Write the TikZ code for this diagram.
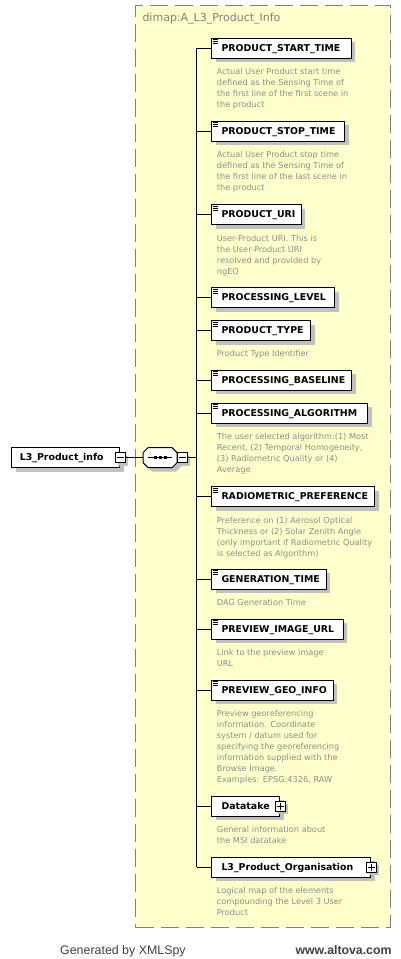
\documentclass[tikz,border=0pt]{standalone}
\usepackage{fontspec}
\setmainfont{Liberation Sans}
\newfontfamily\dvs{DejaVu Sans}
\usetikzlibrary{shadows}
\definecolor{boxfill}{RGB}{255,255,204}
\definecolor{dashgray}{RGB}{128,128,128}
\definecolor{descgray}{RGB}{140,140,140}
\definecolor{titlegray}{RGB}{128,128,128}
\definecolor{shadowgray}{RGB}{192,192,192}
\definecolor{footgray}{RGB}{64,64,64}
\newcommand\elemfont{\dvs\bfseries\fontsize{9.4}{11}\selectfont}
\newcommand\descfont{\dvs\fontsize{8.2}{11}\selectfont}
\tikzset{
  elem/.style={draw=black, line width=1pt, fill=white, minimum height=20pt,
    inner xsep=0pt, inner ysep=0pt, anchor=west, font=\elemfont,
    text height=8pt, text depth=2pt,
    drop shadow={shadow xshift=4pt,shadow yshift=-4pt,fill=shadowgray,opacity=1}},
  desc/.style={anchor=north west, inner sep=0pt, align=left, font=\descfont, text=descgray},
  btn/.style={draw=black, line width=1pt, fill=white, minimum size=10pt, inner sep=0pt,
    drop shadow={shadow xshift=3pt,shadow yshift=-3pt,fill=shadowgray,opacity=1}},
  conn/.style={line width=1pt, draw=black},
  icon/.style={line width=0.7pt, draw=black}
}
% #1 name, #2 y, #3 width, #4 label, #5 description
\newcommand\elembox[5]{%
  \node[elem] (#1) at (211,#2) {\makebox[#3pt][l]{\hspace*{10pt}#4}};
  \draw[icon] ([shift={(1.5,2)}]#1.north west) -- ++(5,0)
              ([shift={(1.5,4)}]#1.north west) -- ++(5,0)
              ([shift={(1.5,6)}]#1.north west) -- ++(5,0);
  \node[desc] (#1d) at ([shift={(5.7,9.5)}]#1.south west) {#5};
}
\newcommand\elemboxplus[5]{%
  \node[elem] (#1) at (211,#2) {\makebox[#3pt][l]{\hspace*{10pt}#4}};
  \node[btn] (#1b) at (#1.east) {};
  \draw[line width=0.8pt] ([xshift=2pt]#1b.west) -- ([xshift=-2pt]#1b.east)
        ([yshift=2pt]#1b.south) -- ([yshift=-2pt]#1b.north);
  \node[desc] (#1d) at ([shift={(5.7,9.5)}]#1.south west) {#5};
}
\newcommand\octpath{(148,447.7) -- (172,447.7) -- (177,452.7) -- (177,462.7) -- (172,467.7) -- (148,467.7) -- (143,462.7) -- (143,452.7) -- cycle}
\begin{document}
\begin{tikzpicture}[x=1pt,y=-1pt]
\useasboundingbox[fill=white] (0,0) rectangle (401,959);
% group box
\node[draw=dashgray, line width=1pt, dash pattern=on 18pt off 7pt, fill=boxfill,
      minimum width=255pt, minimum height=922pt, anchor=north west, inner sep=0pt] (grp) at (135,5) {};
\node[anchor=west, inner sep=0pt, font=\dvs\fontsize{11}{13}\selectfont, text=titlegray] (title) at (142.3,19) {dimap:A\_L3\_Product\_Info};
% root element
\node[elem] (root) at (11,457.7) {\makebox[108pt][l]{\hspace*{8.3pt}L3\_Product\_info}};
\node[btn] (rootb) at (root.east) {};
\draw[line width=0.8pt] ([xshift=2pt]rootb.west) -- ([xshift=-2pt]rootb.east);
% sequence compositor
\node[inner sep=0pt, minimum width=34pt, minimum height=20pt] (seq) at (160,457.7) {};
\begin{scope}[shift={(4,4)}]
  \fill[shadowgray] \octpath;
\end{scope}
\draw[line width=1pt, fill=white] \octpath;
\draw[line width=1pt] ([xshift=5pt]seq.west) -- ([xshift=-5pt]seq.east);
\foreach \dx in {-5,0,5} {
  \fill[black] ([shift={(\dx-1.5,-1.5)}]seq.center) rectangle ++(3,3);
}
\node[btn] (seqb) at (182,457.7) {};
\draw[line width=0.8pt] ([xshift=2pt]seqb.west) -- ([xshift=-2pt]seqb.east);
\draw[conn] (rootb.east) -- (seq.west);
\coordinate (bus) at (196.7,457.7);
\draw[conn] (seqb.east) -- (bus);
% child elements
\elembox{pst}{48.3}{139.7}{PRODUCT\_START\_TIME}{Actual User Product start time\\defined as the Sensing Time of\\the first line of the first scene in\\the product}
\elembox{psp}{131.3}{133.3}{PRODUCT\_STOP\_TIME}{Actual User Product stop time\\defined as the Sensing Time of\\the first line of the last scene in\\the product}
\elembox{puri}{214.7}{89.7}{PRODUCT\_URI}{User-Product URI. This is\\the User-Product URI\\resolved and provided by\\ngEO}
\elembox{plev}{297.5}{123.3}{PROCESSING\_LEVEL}{}
\elembox{ptyp}{330.5}{99.3}{PRODUCT\_TYPE}{Product Type Identifier}
\elembox{pbase}{380}{140}{PROCESSING\_BASELINE}{}
\elembox{palg}{413.3}{156.3}{PROCESSING\_ALGORITHM}{The user selected algorithm:(1) Most\\Recent, (2) Temporal Homogeneity,\\(3) Radiometric Quality or (4)\\Average}
\elembox{prad}{496.7}{163}{RADIOMETRIC\_PREFERENCE}{Preference on (1) Aerosol Optical\\Thickness or (2) Solar Zenith Angle\\(only important if Radiometric Quality\\is selected as Algorithm)}
\elembox{pgen}{579.3}{114.5}{GENERATION\_TIME}{DAG Generation Time}
\elembox{pimg}{629.3}{131.5}{PREVIEW\_IMAGE\_URL}{Link to the preview image\\URL}
\elembox{pgeo}{690.3}{121.5}{PREVIEW\_GEO\_INFO}{Preview georeferencing\\information. Coordinate\\system / datum used for\\specifying the georeferencing\\information supplied with the\\Browse Image.\\Examples: EPSG:4326, RAW}
\elemboxplus{pdat}{806.3}{68}{Datatake}{General information about\\the MSI datatake}
\elemboxplus{porg}{867.3}{159}{L3\_Product\_Organisation}{Logical map of the elements\\compounding the Level 3 User\\Product}
% bus and branches
\draw[conn] (pst.west -| bus) -- (porg.west -| bus);
\foreach \n in {pst,psp,puri,plev,ptyp,pbase,palg,prad,pgen,pimg,pgeo,pdat,porg} {
  \draw[conn] (\n.west -| bus) -- (\n.west);
}
% footer
\node[anchor=west, inner sep=0pt, text height=9pt, text depth=2.5pt, font=\fontsize{12.4}{14}\selectfont, text=footgray] (gen) at (60,951) {Generated by XMLSpy};
\node[anchor=east, inner sep=0pt, text height=9pt, text depth=2.5pt, font=\bfseries\fontsize{12.3}{14}\selectfont, text=footgray] (alt) at (391.7,951) {www.altova.com};
\end{tikzpicture}
\end{document}
